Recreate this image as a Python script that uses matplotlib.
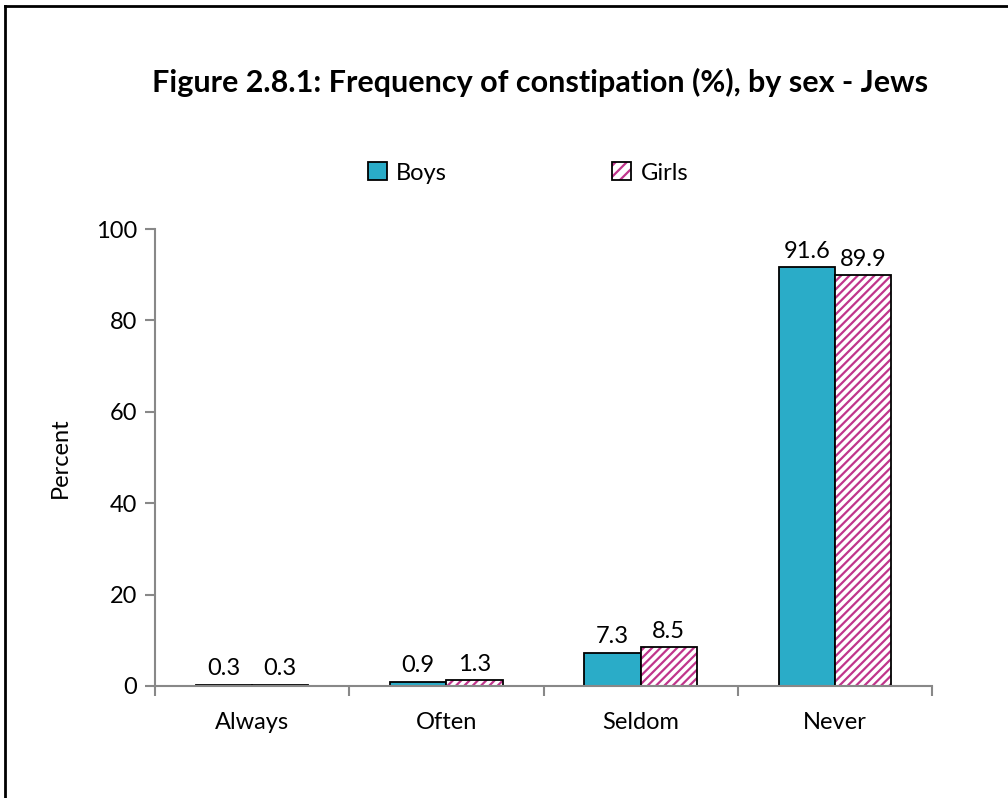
import matplotlib
matplotlib.use("Agg")
import matplotlib.pyplot as plt
import numpy as np
from matplotlib.lines import Line2D
from matplotlib.patches import Rectangle

categories = ["Always", "Often", "Seldom", "Never"]
boys = [0.3, 0.9, 7.3, 91.6]
girls = [0.3, 1.3, 8.5, 89.9]
series_names = ["Boys", "Girls"]
yticks = [0, 20, 40, 60, 80, 100]

plt.rcParams['font.family'] = ['Lato', 'DejaVu Sans']
plt.rcParams['hatch.linewidth'] = 1.6

BOY_C = '#2AACC8'
GIRL_H = '#C0358C'
FS = 17

fig = plt.figure(figsize=(10.08, 7.98), dpi=100)
ax = fig.add_axes([155/1008, 1-686/798, (932-155)/1008, (686-229)/798])

x = np.arange(len(categories))
w = 0.29
b1 = ax.bar(x - w/2, boys, w, color=BOY_C, edgecolor='black', linewidth=1.3)
# hatch layer (magenta hatch) then black outline on top
ax.bar(x + w/2, girls, w, color='white', edgecolor=GIRL_H, linewidth=0, hatch='////')
b2 = ax.bar(x + w/2, girls, w, color='none', edgecolor='black', linewidth=1.3)

for xs, vals in ((x - w/2, boys), (x + w/2, girls)):
    for xi, v in zip(xs, vals):
        ax.text(xi, v + 1.2, f"{v:.1f}", ha='center', va='bottom', fontsize=FS)

ax.set_xlim(-0.5, len(categories) - 0.5)
ax.set_ylim(0, 100)
ax.set_yticks(yticks)
ax.set_yticklabels([str(t) for t in yticks], fontsize=FS)
ax.set_xticks(x)
ax.set_xticklabels(categories, fontsize=FS)
ax.tick_params(axis='x', length=0, pad=19)
ax.set_xticks(np.arange(-0.5, len(categories)), minor=True)
ax.tick_params(axis='x', which='minor', length=7, color='#888888', width=1.5, direction='out')
ax.tick_params(axis='y', length=7, color='#888888', width=1.5, direction='out', pad=6)
for s in ('top', 'right'):
    ax.spines[s].set_visible(False)
for s in ('left', 'bottom'):
    ax.spines[s].set_color('#888888')
    ax.spines[s].set_linewidth(1.5)
ax.set_ylabel("Percent", fontsize=FS, labelpad=18)

fig.text(540/1008, 1-82/798, "Figure 2.8.1: Frequency of constipation (%), by sex - Jews",
         ha='center', va='center', fontsize=22, fontweight='bold')

h1 = Rectangle((0, 0), 1, 1, facecolor=BOY_C, edgecolor='black', linewidth=1.3)
h2 = Rectangle((0, 0), 1, 1, facecolor='white', edgecolor=GIRL_H, linewidth=0, hatch='///')
h2b = Rectangle((0, 0), 1, 1, facecolor='none', edgecolor='black', linewidth=1.3)
leg = fig.legend(handles=[h1, (h2, h2b)], labels=series_names, loc='center',
                 bbox_to_anchor=(528/1008, 1-173/798), ncol=2, frameon=False, fontsize=FS,
                 handlelength=0.8, handleheight=0.8, handletextpad=0.4, columnspacing=7.0)

# outer border
fig.add_artist(Line2D([5/1008, 5/1008], [0, 1-6/798], transform=fig.transFigure, color='black', linewidth=2))
fig.add_artist(Line2D([5/1008, 1], [1-6/798, 1-6/798], transform=fig.transFigure, color='black', linewidth=2))

fig.savefig("out.png", dpi=100)
